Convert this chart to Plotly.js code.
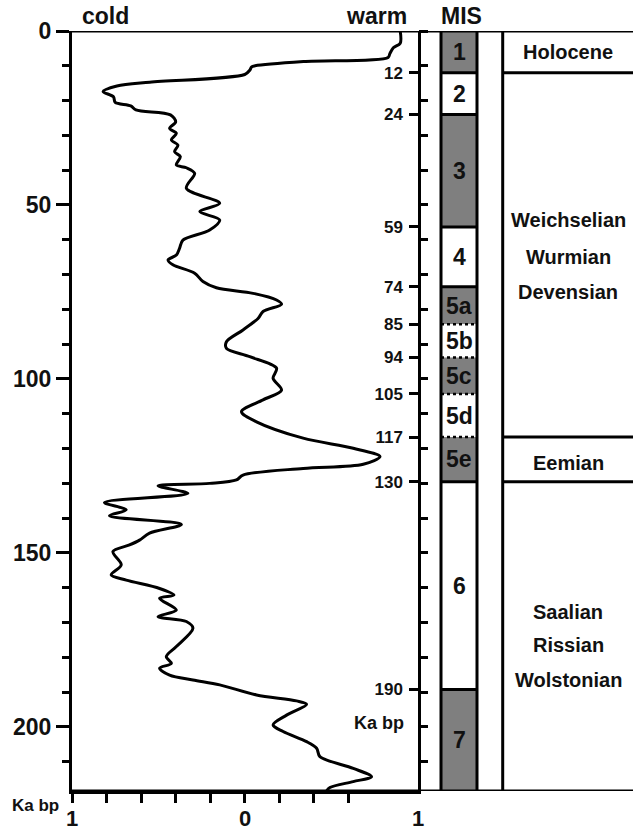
<!DOCTYPE html>
<html>
<head>
<meta charset="utf-8">
<script src="https://cdn.plot.ly/plotly-3.0.1.min.js"></script>
<style>
html,body{margin:0;padding:0;background:#fff;}
#chart{width:633px;height:830px;}
</style>
</head>
<body>
<div id="chart"></div>
<script>
// ---- data ----
const ages = [0, 3.5, 4.8, 6.5, 7.6, 8.8, 10.0, 10.3, 11.2, 12.5, 14.7, 15.8, 17.4, 18.9, 20.5, 21.5, 22.7,
  24.1, 26.1, 28.0, 29.4, 31.3, 32.8, 34.7, 36.1, 38.5, 39.3, 40.9, 45.2, 49.5, 51.9, 54.3, 57.2,
  60.1, 62.4, 64.4, 65.8, 67.2, 69.6, 72.0, 73.8, 75.4, 77.3, 78.5, 80.6, 82.6, 85.9, 89.3, 91.2,
  93.6, 96.9, 99.8, 103.2, 106, 109.4, 112.3, 117, 119.9, 122.3, 124.5, 125.7, 127.6, 129, 130,
  130.7, 132.9, 135.5, 137.6, 139.3, 141.8, 144.3, 146.3, 147.7, 149.6, 153.4, 156.3, 157.8, 160.2,
  162.1, 163, 166.4, 168.3, 169.7, 171.6, 176.9, 179.8, 181.7, 183.1, 185.1, 186.5, 187.9, 190.8,
  192.5, 193.5, 196.6, 199.4, 201.3, 204.2, 206.1, 208.5, 211.9, 214.3, 215.7, 217.4, 218.4];
const values = [0.90, 0.90, 0.86, 0.84, 0.83, 0.34, 0.06, 0.04, 0.03, 0.0, -0.55, -0.74, -0.82, -0.76, -0.75, -0.66, -0.63,
  -0.43, -0.40, -0.435, -0.396, -0.425, -0.387, -0.406, -0.373, -0.396, -0.338, -0.29, -0.338, -0.145, -0.26, -0.145, -0.203,
  -0.358, -0.377, -0.396, -0.444, -0.416, -0.29, -0.242, -0.164, 0.048, 0.184, 0.213, 0.106, 0.077, -0.01, -0.106, -0.106,
  0.029, 0.184, 0.164, 0.213, 0.106, -0.019, 0.068, 0.338, 0.628, 0.783, 0.686, 0.338, -0.01, -0.048, -0.203,
  -0.502, -0.329, -0.812, -0.686, -0.783, -0.367, -0.551, -0.609, -0.667, -0.763, -0.715, -0.773, -0.686, -0.493,
  -0.41, -0.493, -0.396, -0.502, -0.338, -0.3, -0.396, -0.454, -0.425, -0.493, -0.435, -0.3, -0.145, 0.068,
  0.3, 0.358, 0.242, 0.164, 0.222, 0.358, 0.416, 0.435, 0.628, 0.734, 0.628, 0.493, 0.473];

const maxAge = 218.4;
const xTickVals = [-1, -0.8, -0.6, -0.4, -0.2, 0, 0.2, 0.4, 0.6, 0.8, 1];
const xLabelVals = [-1, 0, 1];
const xLabelText = ['1', '0', '1'];

const misNames = ['1', '2', '3', '4', '5a', '5b', '5c', '5d', '5e', '6', '7'];
const misBounds = [0, 12, 24, 56.3, 73.5, 84.3, 93.8, 104.3, 116.7, 129.5, 189.2, 218.4];
const misWarm = [true, false, true, false, true, false, true, false, true, false, true];
const misDotted = [false, false, false, false, true, true, true, true, false, false]; // inner boundaries
const boundaryLabels = ['12', '24', '59', '74', '85', '94', '105', '117', '130', '190'];

const periodLabels = ['Holocene', 'Weichselian', 'Wurmian', 'Devensian', 'Eemian', 'Saalian', 'Rissian', 'Wolstonian'];
const periodLabelAges = [6, 54.3, 64.9, 74.9, 124, 166.9, 176.4, 186.5];
const periodBounds = [12, 116.7, 129.5];

// ---- layout constants ----
const FONT = 'Liberation Sans, Arial, Helvetica, sans-serif';
const boldFont = (s) => ({family: FONT, size: s, color: '#111', weight: 'bold'});
const W = 633, H = 830, ML = 72, MT = 31, MB = 39;
const plotW = W - ML, plotH = H - MT - MB;
const px2paper = (px) => (px - ML) / plotW;
const py2paper = (py) => (H - MB - py) / plotH;
const xDomEnd = px2paper(417.5);
const misX0 = px2paper(441), misX1 = px2paper(477);
const sepX = px2paper(502.7);
const LW = 3;

const traces = [
  {x: values, y: ages, type: 'scatter', mode: 'lines', xaxis: 'x', yaxis: 'y',
   line: {color: '#000', width: 3, shape: 'spline', smoothing: 0.9},
   hoverinfo: 'skip', showlegend: false},
  {x: [null], y: [null], xaxis: 'x', yaxis: 'y2', showlegend: false, hoverinfo: 'skip'},
  {x: [null], y: [null], xaxis: 'x', yaxis: 'y3', showlegend: false, hoverinfo: 'skip'}
];

const shapes = [];
const annotations = [];

// MIS boxes
for (let i = 0; i < misNames.length; i++) {
  shapes.push({type: 'rect', xref: 'paper', yref: 'y', x0: misX0, x1: misX1,
    y0: misBounds[i], y1: misBounds[i + 1],
    fillcolor: misWarm[i] ? '#7f7f7f' : '#ffffff', line: {width: 0}, layer: 'below'});
  annotations.push({xref: 'paper', yref: 'y', x: (misX0 + misX1) / 2,
    y: (misBounds[i] + misBounds[i + 1]) / 2, text: misNames[i], showarrow: false,
    font: boldFont(23), xanchor: 'center', yanchor: 'middle'});
}
// MIS inner boundaries
for (let j = 1; j < misBounds.length - 1; j++) {
  const dotted = misDotted[j - 1];
  shapes.push({type: 'line', xref: 'paper', yref: 'y', x0: misX0, x1: misX1,
    y0: misBounds[j], y1: misBounds[j],
    line: {color: '#000', width: dotted ? 2.5 : LW, dash: dotted ? 'dot' : 'solid'}});
}
// MIS column verticals
[misX0, misX1, sepX].forEach(xp => shapes.push({type: 'line', xref: 'paper', yref: 'y',
  x0: xp, x1: xp, y0: 0, y1: maxAge, line: {color: '#000', width: LW}}));
// top and bottom full-width lines
shapes.push({type: 'line', xref: 'paper', yref: 'y', x0: 0, x1: 1, y0: 0, y1: 0, line: {color: '#000', width: LW}});
shapes.push({type: 'line', xref: 'paper', yref: 'y', x0: 0, x1: 1, y0: maxAge, y1: maxAge, line: {color: '#000', width: LW}});
// period boundaries
periodBounds.forEach(b => shapes.push({type: 'line', xref: 'paper', yref: 'y', x0: sepX, x1: 1,
  y0: b, y1: b, line: {color: '#000', width: LW}}));
// period labels
periodLabels.forEach((t, i) => annotations.push({xref: 'paper', yref: 'y', x: px2paper(568),
  y: periodLabelAges[i], text: t, showarrow: false, font: boldFont(20), xanchor: 'center', yanchor: 'middle'}));

// x-axis value labels (cold 1 ... 0 ... 1 warm)
xLabelVals.forEach((v, i) => annotations.push({xref: 'x', yref: 'paper', x: v, y: py2paper(804),
  text: xLabelText[i], showarrow: false, font: boldFont(22), xanchor: 'center', yanchor: 'top'}));

// headers
annotations.push({xref: 'paper', yref: 'paper', x: px2paper(80), y: py2paper(16),
  text: 'cold', showarrow: false, font: boldFont(23), xanchor: 'left', yanchor: 'middle'});
annotations.push({xref: 'paper', yref: 'paper', x: px2paper(409), y: py2paper(16),
  text: 'warm', showarrow: false, font: boldFont(23), xanchor: 'right', yanchor: 'middle'});
annotations.push({xref: 'paper', yref: 'paper', x: px2paper(461), y: py2paper(16),
  text: 'MIS', showarrow: false, font: boldFont(23), xanchor: 'center', yanchor: 'middle'});
annotations.push({xref: 'paper', yref: 'paper', x: px2paper(36), y: py2paper(806),
  text: 'Ka bp', showarrow: false, font: boldFont(17), xanchor: 'center', yanchor: 'middle'});
annotations.push({xref: 'paper', yref: 'y', x: px2paper(406), y: 199,
  text: 'Ka bp', showarrow: false, font: boldFont(18), xanchor: 'right', yanchor: 'middle'});

const layout = {
  width: W, height: H,
  margin: {l: ML, r: 0, t: MT, b: MB, pad: 0},
  paper_bgcolor: '#fff', plot_bgcolor: 'rgba(0,0,0,0)',
  showlegend: false,
  xaxis: {domain: [0, xDomEnd], range: [-1, 1], tickvals: xTickVals, showticklabels: false,
    ticks: 'outside', ticklen: 9, tickwidth: LW, tickcolor: '#000',
    showline: true, linewidth: LW, linecolor: '#000', showgrid: false, zeroline: false,
    fixedrange: true},
  yaxis: {range: [maxAge, 0], tick0: 0, dtick: 50, ticks: 'outside', ticklen: 13, tickwidth: LW,
    tickcolor: '#000', minor: {dtick: 10, ticks: 'outside', ticklen: 7, tickwidth: LW, tickcolor: '#000'},
    showline: true, linewidth: LW, linecolor: '#000', showgrid: false, zeroline: false,
    tickfont: boldFont(23), fixedrange: true},
  yaxis2: {overlaying: 'y', anchor: 'x', side: 'right', range: [maxAge, 0],
    tickvals: misBounds.slice(1, -1), ticktext: boundaryLabels,
    ticks: 'inside', ticklen: 9, tickwidth: LW, tickcolor: '#000', ticklabelposition: 'inside',
    ticklabelstandoff: 6,
    showline: true, linewidth: LW, linecolor: '#000', showgrid: false, zeroline: false,
    tickfont: boldFont(17), fixedrange: true},
  yaxis3: {overlaying: 'y', anchor: 'x', side: 'right', range: [maxAge, 0], tick0: 0, dtick: 10,
    ticks: 'outside', ticklen: 9, tickwidth: LW, tickcolor: '#000', showticklabels: false,
    showline: false, showgrid: false, zeroline: false, fixedrange: true},
  shapes: shapes,
  annotations: annotations
};

Plotly.newPlot('chart', traces, layout, {staticPlot: true, displayModeBar: false});
</script>
</body>
</html>
